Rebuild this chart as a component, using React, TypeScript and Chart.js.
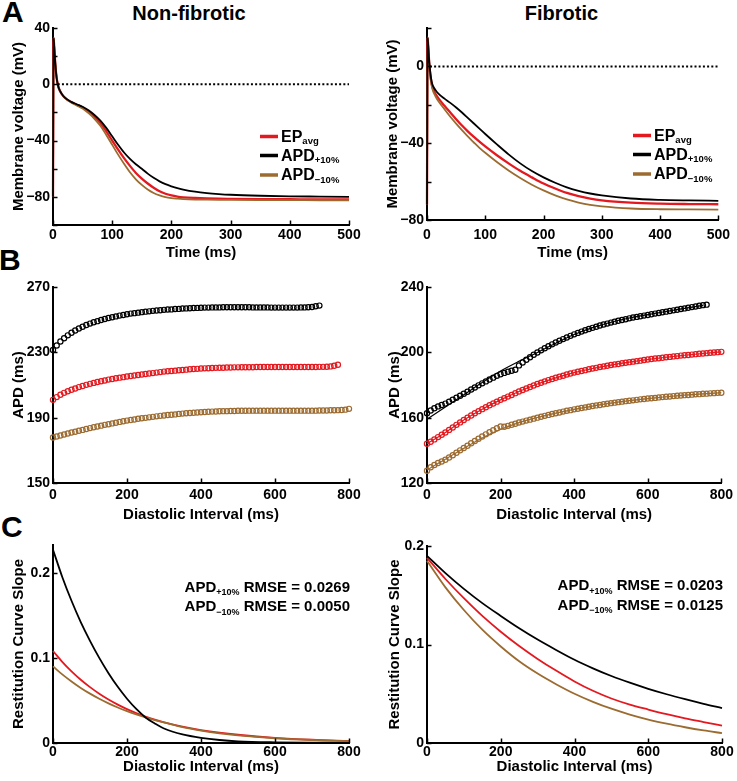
import React, { useEffect, useRef } from 'react';
import { Chart, registerables } from 'chart.js';

Chart.register(...registerables);

const FONT = '"Liberation Sans", Arial, Helvetica, sans-serif';
Chart.defaults.font.family = FONT;
Chart.defaults.color = '#000';

const RED = '#e3191f';
const BLACK = '#000000';
const BROWN = '#9c6b30';

// ---------- Panel A : action potentials ----------
const AP_T_NF = [0, 1, 2, 4, 6, 8, 10, 15, 20, 30, 40, 50, 60, 70, 80, 90, 100, 110, 120, 130, 140, 150, 160, 170, 180, 190, 200, 210, 220, 240, 260, 280, 300, 350, 400, 450, 500];
const AP_NF_EPAVG = [-80, 33, 27, 14, 5, 0, -3, -7, -9.5, -12.5, -14.5, -16.5, -19.5, -23, -27.5, -33.5, -40, -46.5, -52.5, -58, -63, -67, -70.5, -73.5, -76, -77.8, -79, -79.8, -80.3, -80.8, -81.1, -81.3, -81.4, -81.6, -81.7, -81.8, -81.8];
const AP_NF_PLUS = [-80, 33, 27, 14, 5, 0, -3, -7, -9.5, -12.3, -14.2, -16, -18.5, -21.8, -25.8, -31, -37, -43, -48.5, -53, -56.8, -60, -63.5, -66.5, -69, -71, -72.5, -73.8, -74.8, -76.3, -77.3, -78, -78.5, -79.2, -79.6, -79.8, -80];
const AP_NF_MINUS = [-80, 33, 27, 14, 5, 0, -3, -7, -9.7, -12.8, -15, -17.2, -20.5, -24.5, -29.5, -36, -43, -50, -56.5, -62.5, -67.5, -71.5, -74.8, -77.3, -79, -80.2, -80.9, -81.3, -81.6, -81.9, -82, -82.1, -82.2, -82.3, -82.3, -82.4, -82.4];

const AP_T_F = [0, 1, 2, 4, 6, 8, 10, 15, 20, 30, 40, 50, 60, 70, 80, 90, 100, 120, 140, 160, 180, 200, 220, 240, 260, 280, 300, 350, 400, 450, 500];
const AP_F_EPAVG = [-72, 15, 11, 1, -5, -9, -11.5, -14.5, -16.8, -20.5, -24, -27.5, -30.8, -33.8, -36.6, -39.2, -41.7, -46.3, -50.5, -54.4, -57.8, -61, -63.6, -65.9, -67.6, -68.9, -69.8, -71, -71.5, -71.7, -71.8];
const AP_F_PLUS = [-72, 15, 11, 2, -4, -8, -10, -12.5, -14.3, -16.8, -19, -21.4, -24, -26.8, -29.6, -32.4, -35.2, -40.6, -45.8, -50.5, -54.5, -57.8, -60.6, -63, -64.8, -66.2, -67.2, -68.8, -69.5, -69.8, -70];
const AP_F_MINUS = [-72, 15, 11, 0.5, -6, -10, -12.5, -15.8, -18.3, -22.3, -26.2, -29.8, -33.2, -36.5, -39.5, -42.4, -45, -49.8, -54.2, -58.1, -61.6, -64.6, -67.2, -69.3, -70.9, -72.1, -72.9, -74, -74.4, -74.5, -74.6];

const ZERO_T_NF = [8, 500];
const ZERO_T_F = [5, 500];
const ZERO_V = [0, 0];

// ---------- Panel B : restitution (APD vs DI) ----------
const DI_B = [0, 10, 20, 30, 40, 50, 60, 70, 80, 90, 100, 110, 120, 130, 140, 150, 160, 170, 180, 190, 200, 210, 220, 230, 240, 250, 260, 270, 280, 290, 300, 310, 320, 330, 340, 350, 360, 370, 380, 390, 400, 410, 420, 430, 440, 450, 460, 470, 480, 490, 500, 510, 520, 530, 540, 550, 560, 570, 580, 590, 600, 610, 620, 630, 640, 650, 660, 670, 680, 690, 700, 710, 720, 730, 740, 750, 760, 770, 780, 790, 800];

const APD_NF_PLUS = [231.4, 234.2, 236.6, 238.6, 240.4, 242.0, 243.4, 244.6, 245.7, 246.7,
  247.6, 248.4, 249.1, 249.8, 250.4, 251.0, 251.5, 252.0, 252.5, 252.9,
  253.3, 253.7, 254.0, 254.3, 254.6, 254.9, 255.1, 255.4, 255.6, 255.8,
  256.0, 256.2, 256.3, 256.5, 256.6, 256.8, 256.9, 257.0, 257.1, 257.2,
  257.3, 257.4, 257.4, 257.5, 257.5, 257.5, 257.6, 257.6, 257.6, 257.6,
  257.6, 257.6, 257.6, 257.6, 257.5, 257.5, 257.5, 257.5, 257.5, 257.4,
  257.4, 257.4, 257.4, 257.4, 257.4, 257.4, 257.4, 257.5, 257.5, 257.6,
  257.8, 258.2, 258.6];
const APD_NF_EPAVG = [200.9, 202.6, 204.0, 205.2, 206.2, 207.1, 207.9, 208.7, 209.4, 210.1,
  210.7, 211.3, 211.8, 212.3, 212.8, 213.3, 213.7, 214.1, 214.5, 214.8,
  215.2, 215.5, 215.8, 216.1, 216.4, 216.7, 217.0, 217.3, 217.6, 217.9,
  218.2, 218.4, 218.6, 218.8, 219.0, 219.2, 219.4, 219.6, 219.8, 219.9,
  220.1, 220.2, 220.3, 220.4, 220.5, 220.6, 220.6, 220.7, 220.7, 220.8,
  220.8, 220.9, 220.9, 220.9, 220.9, 221.0, 221.0, 221.0, 221.0, 221.0,
  221.0, 221.0, 221.0, 221.0, 221.0, 221.0, 221.0, 221.0, 221.0, 221.0,
  221.0, 221.0, 221.1, 221.1, 221.2, 221.4, 221.8, 222.4];
const APD_NF_MINUS = [177.9, 178.5, 179.1, 179.7, 180.3, 180.9, 181.4, 182.0, 182.5, 183.1,
  183.6, 184.1, 184.6, 185.1, 185.6, 186.0, 186.5, 186.9, 187.4, 187.8,
  188.2, 188.6, 188.9, 189.3, 189.6, 189.9, 190.2, 190.5, 190.8, 191.1,
  191.3, 191.6, 191.8, 192.0, 192.3, 192.5, 192.7, 192.9, 193.0, 193.2,
  193.3, 193.5, 193.6, 193.7, 193.8, 193.9, 194.0, 194.0, 194.1, 194.1,
  194.2, 194.2, 194.2, 194.3, 194.3, 194.3, 194.3, 194.3, 194.3, 194.3,
  194.3, 194.3, 194.3, 194.3, 194.3, 194.3, 194.3, 194.3, 194.3, 194.3,
  194.3, 194.3, 194.4, 194.4, 194.4, 194.5, 194.5, 194.6, 194.7, 194.9,
  195.4];

const APD_F_PLUS = [162.7, 164.4, 165.8, 166.9, 167.8, 168.6, 169.8, 171.0, 172.2, 173.4,
  174.6, 175.9, 177.2, 178.5, 179.8, 181.0, 182.2, 183.4, 184.5, 185.6,
  186.6, 187.4, 188.1, 188.7, 189.3, 192.0, 193.8, 195.5, 197.0, 198.5,
  199.9, 201.2, 202.5, 203.7, 204.9, 206.0, 207.1, 208.1, 209.1, 210.1,
  211.0, 211.9, 212.7, 213.5, 214.3, 215.0, 215.7, 216.4, 217.0, 217.6,
  218.2, 218.8, 219.3, 219.8, 220.3, 220.8, 221.3, 221.7, 222.1, 222.5,
  222.9, 223.3, 223.7, 224.1, 224.5, 224.9, 225.3, 225.7, 226.1, 226.5,
  226.9, 227.3, 227.7, 228.1, 228.5, 228.9, 229.2];
const APD_F_EPAVG = [144.0, 145.3, 146.7, 148.1, 149.5, 150.9, 152.5, 154.0, 155.6, 157.1,
  158.6, 160.0, 161.3, 162.7, 164.0, 165.2, 166.4, 167.6, 168.7, 169.8,
  170.9, 171.9, 172.9, 173.9, 175.0, 176.0, 176.9, 177.9, 178.8, 179.7,
  180.6, 181.4, 182.2, 183.0, 183.7, 184.4, 185.1, 185.7, 186.4, 187.0,
  187.6, 188.1, 188.6, 189.1, 189.6, 190.1, 190.5, 191.0, 191.4, 191.8,
  192.2, 192.6, 192.9, 193.3, 193.6, 194.0, 194.3, 194.6, 194.9, 195.3,
  195.6, 195.9, 196.2, 196.4, 196.7, 197.0, 197.2, 197.5, 197.7, 198.0,
  198.2, 198.4, 198.6, 198.9, 199.1, 199.3, 199.5, 199.7, 199.9, 200.1,
  200.3];
const APD_F_MINUS = [127.5, 129.6, 131.0, 132.2, 133.2, 134.2, 135.6, 137.0, 138.5, 140.0,
  141.4, 142.8, 144.3, 145.7, 147.1, 148.5, 149.8, 151.1, 152.3, 153.5,
  154.6, 154.4, 155.0, 155.7, 156.3, 157.0, 157.6, 158.2, 158.8, 159.4,
  160.0, 160.6, 161.1, 161.7, 162.2, 162.7, 163.2, 163.7, 164.2, 164.6,
  165.1, 165.5, 165.9, 166.3, 166.7, 167.1, 167.5, 167.8, 168.2, 168.5,
  168.9, 169.2, 169.5, 169.8, 170.1, 170.4, 170.6, 170.9, 171.2, 171.4,
  171.7, 171.9, 172.1, 172.4, 172.6, 172.8, 173.0, 173.2, 173.4, 173.6,
  173.8, 173.9, 174.1, 174.3, 174.4, 174.6, 174.7, 174.9, 175.0, 175.2,
  175.3];

const DI_FIT = [0, 50, 100, 150, 200, 250, 300, 350, 400, 450, 500, 550, 600, 650, 700, 750, 800];
const FIT_F_PLUS = [159.0, 166.5, 174.0, 181.5, 188.6, 194.5, 199.9, 205.6, 210.9, 215.1, 218.4, 221.0, 223.1, 225.0, 226.9, 228.8];
const FIT_F_EPAVG = [144.0, 150.9, 158.6, 165.2, 170.9, 176.0, 180.6, 184.4, 187.6, 190.1, 192.2, 194.0, 195.6, 197.0, 198.2, 199.3, 200.3];
const FIT_F_MINUS = [128.0, 134.6, 141.2, 147.6, 152.8, 157.0, 160.1, 162.8, 165.1, 167.1, 168.9, 170.4, 171.7, 172.8, 173.8, 174.6, 175.3];

// ---------- Panel C : restitution curve slope ----------
const DI_C_NF = [0, 25, 50, 75, 100, 125, 150, 175, 200, 225, 250, 275, 300, 350, 400, 450, 500, 600, 700, 800];
const SLOPE_NF_PLUS = [0.227, 0.195, 0.167, 0.142, 0.120, 0.100, 0.082, 0.066, 0.052, 0.040, 0.030, 0.023, 0.017, 0.010, 0.006, 0.0035, 0.002, 0.0008, 0.0003, 0.0001];
const SLOPE_NF_EPAVG = [0.108, 0.0953, 0.0841, 0.0743, 0.0656, 0.0579, 0.0511, 0.0451, 0.0398, 0.0351, 0.031, 0.0274, 0.0242, 0.0192, 0.0152, 0.0121, 0.0097, 0.0061, 0.0038, 0.0024];
const SLOPE_NF_MINUS = [0.090, 0.0806, 0.0723, 0.0647, 0.058, 0.052, 0.0466, 0.0417, 0.0374, 0.0335, 0.030, 0.0269, 0.0241, 0.0186, 0.0146, 0.0114, 0.0090, 0.0056, 0.0035, 0.0022];

const DI_C_F = [0, 50, 100, 150, 200, 250, 300, 350, 400, 450, 500, 550, 600, 650, 700, 750, 800];
const SLOPE_F_PLUS = [0.190, 0.1725, 0.1565, 0.142, 0.129, 0.1165, 0.105, 0.0945, 0.0845, 0.0758, 0.068, 0.0612, 0.055, 0.0495, 0.0445, 0.0398, 0.0355];
const SLOPE_F_EPAVG = [0.188, 0.1665, 0.147, 0.129, 0.113, 0.0985, 0.0854, 0.0735, 0.0625, 0.053, 0.0452, 0.039, 0.034, 0.0293, 0.0251, 0.0213, 0.0176];
const SLOPE_F_MINUS = [0.185, 0.158, 0.135, 0.115, 0.098, 0.083, 0.0705, 0.0597, 0.050, 0.0418, 0.0348, 0.0289, 0.0238, 0.0196, 0.016, 0.0128, 0.010];

const RMSE_NF = ['0.0269', '0.0050'];
const RMSE_F = ['0.0203', '0.0125'];

// ---------- helpers ----------
type Box = { x: number; y: number; w: number; h: number };
type Area = { l: number; t: number; r: number; b: number };

const pts = (xs: number[], ys: number[]) => ys.map((y, i) => ({ x: xs[i], y }));

const lineDs = (xs: number[], ys: number[], color: string, width: number, dash?: number[]) => ({
  data: pts(xs, ys),
  borderColor: color,
  backgroundColor: color,
  borderWidth: width,
  borderDash: dash || [],
  pointRadius: 0,
  fill: false,
  cubicInterpolationMode: 'monotone',
  clip: false,
});

const circleDs = (xs: number[], ys: number[], color: string) => ({
  data: pts(xs, ys),
  showLine: false,
  borderColor: color,
  backgroundColor: 'rgba(0,0,0,0)',
  pointBorderColor: color,
  pointBackgroundColor: 'rgba(0,0,0,0)',
  pointRadius: 2.6,
  pointBorderWidth: 1.2,
  clip: false,
});

const fmtNum = (v: number) => {
  if (Math.abs(v) < 1e-9) return '0';
  const s = Math.abs(v) < 1 ? v.toFixed(1) : String(Math.round(v));
  return s.replace('-', '\u2212');
};

function drawRich(ctx: CanvasRenderingContext2D, parts: { text: string; size: number; dy: number }[], x: number, y: number, align: 'left' | 'right') {
  const widths = parts.map((p) => {
    ctx.font = `bold ${p.size}px ${FONT}`;
    return ctx.measureText(p.text).width;
  });
  const total = widths.reduce((a, b) => a + b, 0);
  let cx = align === 'right' ? x - total : x;
  ctx.textBaseline = 'alphabetic';
  ctx.textAlign = 'left';
  parts.forEach((p, i) => {
    ctx.font = `bold ${p.size}px ${FONT}`;
    ctx.fillText(p.text, cx, y + p.dy);
    cx += widths[i];
  });
}

const decorPlugin = {
  id: 'decor',
  afterDatasetsDraw(chart: any) {
    const o = chart.options.plugins.decor;
    if (!o) return;
    const { ctx, chartArea } = chart;
    const sx = chart.scales.x;
    const sy = chart.scales.y;
    ctx.save();
    ctx.strokeStyle = '#000';
    ctx.lineWidth = 1.5;
    const L = 4.5;
    for (const t of sx.ticks) {
      const px = Math.round(sx.getPixelForValue(t.value)) + 0.5;
      ctx.beginPath();
      ctx.moveTo(px, chartArea.bottom);
      ctx.lineTo(px, chartArea.bottom - L);
      ctx.stroke();
    }
    for (const t of sy.ticks) {
      const py = Math.round(sy.getPixelForValue(t.value)) + 0.5;
      ctx.beginPath();
      ctx.moveTo(chartArea.left, py);
      ctx.lineTo(chartArea.left + L, py);
      ctx.stroke();
    }
    const bx = o.box.x;
    const by = o.box.y;
    ctx.fillStyle = '#000';
    if (o.legend) {
      const lg = o.legend;
      lg.rows.forEach((r: any) => {
        ctx.strokeStyle = r.color;
        ctx.lineWidth = 3.5;
        ctx.beginPath();
        ctx.moveTo(lg.x1 - bx, r.y - by);
        ctx.lineTo(lg.x2 - bx, r.y - by);
        ctx.stroke();
        drawRich(ctx, [
          { text: r.main, size: 16, dy: 0 },
          { text: r.sub, size: 9.5, dy: 2.5 },
        ], lg.tx - bx, r.y - by + 5, 'left');
      });
    }
    if (o.notes) {
      o.notes.rows.forEach((r: any) => {
        drawRich(ctx, [
          { text: 'APD', size: 15, dy: 0 },
          { text: r.sub, size: 9, dy: 3.5 },
          { text: ' RMSE = ' + r.val, size: 15, dy: 0 },
        ], o.notes.right - bx, r.y - by, 'right');
      });
    }
    ctx.restore();
  },
};

type Spec = {
  box: Box;
  area: Area;
  x: { min: number; max: number; step: number; pad: number };
  y: { min: number; max: number; step: number; every?: number };
  xTitle: string;
  yTitle: string;
  xTitleY: number;
  yTitleX: number;
  datasets: any[];
  legend?: any;
  notes?: any;
};

function makeConfig(s: Spec): any {
  const { box, area } = s;
  return {
    type: 'line',
    data: { datasets: s.datasets },
    options: {
      animation: false,
      responsive: false,
      maintainAspectRatio: false,
      devicePixelRatio: 1,
      events: [],
      layout: {
        padding: { left: 0, top: area.t - box.y, right: box.x + box.w - area.r, bottom: 0 },
      },
      plugins: {
        legend: { display: false },
        tooltip: { enabled: false },
        title: { display: false },
        decor: { box, legend: s.legend, notes: s.notes },
      },
      scales: {
        x: {
          type: 'linear',
          min: s.x.min,
          max: s.x.max,
          grid: { display: false, drawTicks: false },
          border: { display: true, color: '#000', width: 2 },
          ticks: {
            stepSize: s.x.step,
            padding: s.x.pad,
            autoSkip: false,
            maxRotation: 0,
            minRotation: 0,
            color: '#000',
            font: { size: 14, weight: 'bold', family: FONT },
            callback: (v: number) => fmtNum(v),
          },
          title: {
            display: true,
            text: s.xTitle,
            color: '#000',
            font: { size: 15, weight: 'bold', family: FONT },
            padding: { top: 0, bottom: Math.max(0, box.y + box.h - 9 - s.xTitleY) },
          },
          afterFit: (sc: any) => {
            sc.height = box.y + box.h - area.b;
          },
        },
        y: {
          type: 'linear',
          min: s.y.min,
          max: s.y.max,
          grid: { display: false, drawTicks: false },
          border: { display: true, color: '#000', width: 2 },
          ticks: {
            stepSize: s.y.step,
            includeBounds: false,
            padding: 3,
            autoSkip: false,
            color: '#000',
            font: { size: 14, weight: 'bold', family: FONT },
            callback: (v: number) => {
              if (s.y.every && Math.abs(v % s.y.every) > 1e-9) return '';
              return fmtNum(v);
            },
          },
          title: {
            display: true,
            text: s.yTitle,
            color: '#000',
            font: { size: 15, weight: 'bold', family: FONT },
            padding: { top: s.yTitleX - box.x - 9, bottom: 0 },
          },
          afterFit: (sc: any) => {
            sc.width = area.l - box.x;
          },
        },
      },
    },
    plugins: [decorPlugin],
  };
}

function Panel({ build }: { build: () => Spec }) {
  const ref = useRef<HTMLCanvasElement>(null);
  const spec = build();
  useEffect(() => {
    const chart = new Chart(ref.current as HTMLCanvasElement, makeConfig(build()));
    return () => chart.destroy();
  }, []);
  const b = spec.box;
  return (
    <canvas
      ref={ref}
      width={b.w}
      height={b.h}
      style={{ position: 'absolute', left: b.x, top: b.y, width: b.w, height: b.h }}
    />
  );
}

const legendRows = (ys: number[]) => [
  { y: ys[0], color: RED, main: 'EP', sub: 'avg' },
  { y: ys[1], color: BLACK, main: 'APD', sub: '+10%' },
  { y: ys[2], color: BROWN, main: 'APD', sub: '\u221210%' },
];

const buildAL = (): Spec => ({
  box: { x: 0, y: 16, w: 368, h: 246 },
  area: { l: 53, t: 28, r: 349, b: 225 },
  x: { min: 0, max: 500, step: 100, pad: 2 },
  y: { min: -100, max: 40, step: 20, every: 40 },
  xTitle: 'Time (ms)',
  yTitle: 'Membrane voltage (mV)',
  xTitleY: 253,
  yTitleX: 19,
  datasets: [
    lineDs(ZERO_T_NF, ZERO_V, BLACK, 2, [2, 2.2]),
    lineDs(AP_T_NF, AP_NF_PLUS, BLACK, 1.8),
    lineDs(AP_T_NF, AP_NF_MINUS, BROWN, 1.8),
    lineDs(AP_T_NF, AP_NF_EPAVG, RED, 2.3),
  ],
  legend: { x1: 260, x2: 278, tx: 281, rows: legendRows([136.5, 155.5, 175]) },
});

const buildAR = (): Spec => ({
  box: { x: 368, y: 16, w: 369, h: 246 },
  area: { l: 427, t: 28, r: 722, b: 220 },
  x: { min: 0, max: 500, step: 100, pad: 7 },
  y: { min: -80, max: 20, step: 20, every: 40 },
  xTitle: 'Time (ms)',
  yTitle: 'Membrane voltage (mV)',
  xTitleY: 253,
  yTitleX: 393,
  datasets: [
    lineDs(ZERO_T_F, ZERO_V, BLACK, 2, [2, 2.2]),
    lineDs(AP_T_F, AP_F_PLUS, BLACK, 1.8),
    lineDs(AP_T_F, AP_F_MINUS, BROWN, 1.8),
    lineDs(AP_T_F, AP_F_EPAVG, RED, 2.3),
  ],
  legend: { x1: 633, x2: 651, tx: 654, rows: legendRows([135.5, 154.5, 174]) },
});

const buildBL = (): Spec => ({
  box: { x: 0, y: 272, w: 368, h: 254 },
  area: { l: 53, t: 287, r: 349, b: 483 },
  x: { min: 0, max: 800, step: 200, pad: 4 },
  y: { min: 150, max: 270, step: 40 },
  xTitle: 'Diastolic Interval (ms)',
  yTitle: 'APD (ms)',
  xTitleY: 515,
  yTitleX: 19,
  datasets: [
    circleDs(DI_B, APD_NF_PLUS, BLACK),
    circleDs(DI_B, APD_NF_EPAVG, RED),
    circleDs(DI_B, APD_NF_MINUS, BROWN),
  ],
});

const buildBR = (): Spec => ({
  box: { x: 368, y: 272, w: 369, h: 254 },
  area: { l: 427, t: 287, r: 722, b: 483 },
  x: { min: 0, max: 800, step: 200, pad: 4 },
  y: { min: 120, max: 240, step: 40 },
  xTitle: 'Diastolic Interval (ms)',
  yTitle: 'APD (ms)',
  xTitleY: 515,
  yTitleX: 395,
  datasets: [
    lineDs(DI_FIT, FIT_F_PLUS, BLACK, 1.2),
    lineDs(DI_FIT, FIT_F_EPAVG, RED, 1.2),
    lineDs(DI_FIT, FIT_F_MINUS, BROWN, 1.2),
    circleDs(DI_B, APD_F_PLUS, BLACK),
    circleDs(DI_B, APD_F_EPAVG, RED),
    circleDs(DI_B, APD_F_MINUS, BROWN),
  ],
});

const buildCL = (): Spec => ({
  box: { x: 0, y: 530, w: 368, h: 246 },
  area: { l: 53, t: 545, r: 349, b: 743 },
  x: { min: 0, max: 800, step: 200, pad: 1 },
  y: { min: 0, max: 0.2325, step: 0.1 },
  xTitle: 'Diastolic Interval (ms)',
  yTitle: 'Restitution Curve Slope',
  xTitleY: 767,
  yTitleX: 19,
  datasets: [
    lineDs(DI_C_NF, SLOPE_NF_PLUS, BLACK, 1.8),
    lineDs(DI_C_NF, SLOPE_NF_MINUS, BROWN, 1.8),
    lineDs(DI_C_NF, SLOPE_NF_EPAVG, RED, 1.8),
  ],
  notes: { right: 350, rows: [{ y: 591.5, sub: '+10%', val: RMSE_NF[0] }, { y: 611, sub: '\u221210%', val: RMSE_NF[1] }] },
});

const buildCR = (): Spec => ({
  box: { x: 368, y: 530, w: 369, h: 246 },
  area: { l: 427, t: 546, r: 722, b: 743 },
  x: { min: 0, max: 800, step: 200, pad: 1 },
  y: { min: 0, max: 0.2, step: 0.1 },
  xTitle: 'Diastolic Interval (ms)',
  yTitle: 'Restitution Curve Slope',
  xTitleY: 767,
  yTitleX: 395,
  datasets: [
    lineDs(DI_C_F, SLOPE_F_PLUS, BLACK, 1.8),
    lineDs(DI_C_F, SLOPE_F_MINUS, BROWN, 1.8),
    lineDs(DI_C_F, SLOPE_F_EPAVG, RED, 1.8),
  ],
  notes: { right: 723, rows: [{ y: 590, sub: '+10%', val: RMSE_F[0] }, { y: 609.5, sub: '\u221210%', val: RMSE_F[1] }] },
});

const textStyle = (size: number): React.CSSProperties => ({
  position: 'absolute',
  fontFamily: FONT,
  fontWeight: 'bold',
  fontSize: size,
  lineHeight: `${size}px`,
  whiteSpace: 'nowrap',
  color: '#000',
});

export default function App() {
  return (
    <div style={{ position: 'absolute', left: 0, top: 0, width: 737, height: 781, background: '#fff', overflow: 'hidden' }}>
      <div style={{ ...textStyle(30), left: 2, top: -3.5 }}>A</div>
      <div style={{ ...textStyle(30), left: -1, top: 245 }}>B</div>
      <div style={{ ...textStyle(30), left: 1, top: 511.5 }}>C</div>
      <div style={{ ...textStyle(20), left: 189, top: 2.5, transform: 'translateX(-50%)' }}>Non-fibrotic</div>
      <div style={{ ...textStyle(20), left: 561.5, top: 2.5, transform: 'translateX(-50%)' }}>Fibrotic</div>
      <Panel build={buildAL} />
      <Panel build={buildAR} />
      <Panel build={buildBL} />
      <Panel build={buildBR} />
      <Panel build={buildCL} />
      <Panel build={buildCR} />
    </div>
  );
}
